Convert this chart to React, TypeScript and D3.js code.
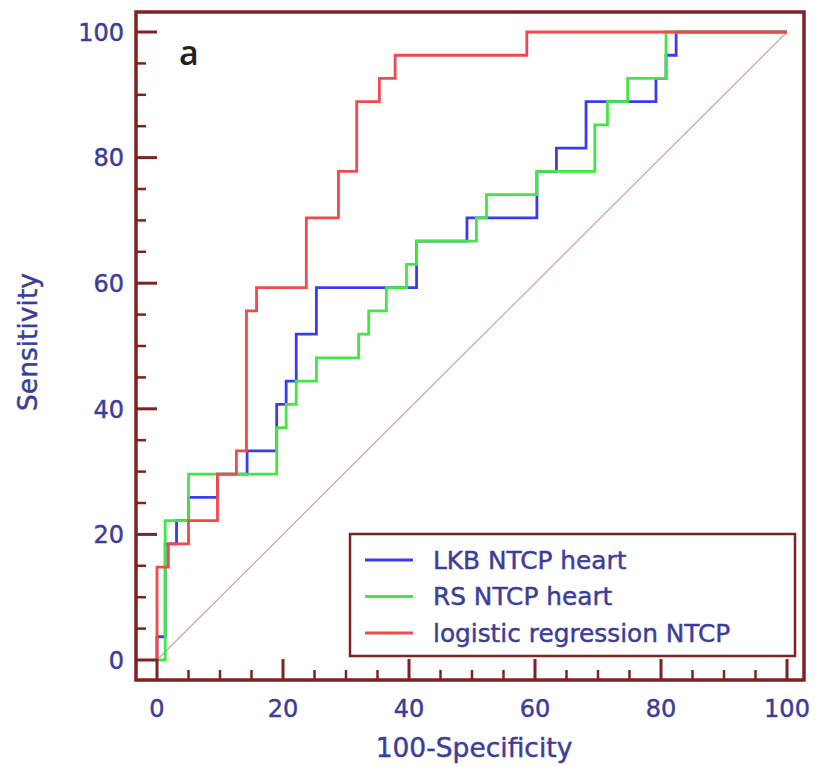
import React from "react";
import * as d3 from "d3";

// ---- Data (100-Specificity %, Sensitivity %) ----
const lkbFpr = [0, 0, 1.3, 3.1, 5.0, 9.6, 14.3, 19.0, 20.5, 22.1, 25.3, 41.2, 49.2, 60.3, 63.4, 68.1, 79.2, 80.8, 82.4, 100];
const lkbTpr = [0, 3.7, 18.5, 22.2, 25.9, 29.6, 33.3, 40.7, 44.4, 51.9, 59.3, 66.7, 70.4, 77.8, 81.5, 88.9, 92.6, 96.3, 100, 100];

const rsFpr = [0, 1.3, 5.0, 19.0, 20.5, 22.1, 25.3, 32.0, 33.6, 36.4, 39.6, 41.2, 50.7, 52.3, 60.3, 69.5, 71.5, 74.7, 80.8, 100];
const rsTpr = [0, 22.2, 29.6, 37.0, 40.7, 44.4, 48.1, 51.9, 55.6, 59.3, 63.0, 66.7, 70.4, 74.1, 77.8, 85.2, 88.9, 92.6, 100, 100];

const lrFpr = [0, 0, 1.8, 5.0, 9.6, 12.6, 14.2, 15.8, 23.7, 28.8, 31.7, 35.3, 37.8, 58.7, 100];
const lrTpr = [0, 14.8, 18.5, 22.2, 29.6, 33.3, 55.6, 59.3, 70.4, 77.8, 88.9, 92.6, 96.3, 100, 100];

const seriesNames = ["LKB NTCP heart", "RS NTCP heart", "logistic regression NTCP"];
const seriesColors = ["#3b3bf2", "#42e842", "#f24a4a"];
const majorTicks = [0, 20, 40, 60, 80, 100];
const minorTicks = d3.range(0, 101, 5).filter((v) => v % 20 !== 0);

const xTitle = "100-Specificity";
const yTitle = "Sensitivity";
const panelLabel = "a";

const W = 817;
const H = 767;
const frame = { left: 136, right: 804, top: 12, bottom: 680 };
const textColor = "#3c3d9a";
const frameColor = "#7d2323";
const font = "'DejaVu Sans', sans-serif";
const textStroke = { stroke: textColor, strokeWidth: 0.45 };

export default function App() {
  const x = d3.scaleLinear().domain([0, 100]).range([157, 787]);
  const y = d3.scaleLinear().domain([0, 100]).range([660, 32]);

  const line = d3
    .line<[number, number]>()
    .x((d) => x(d[0]))
    .y((d) => y(d[1]))
    .curve(d3.curveStepAfter);

  const series = [
    { fpr: lkbFpr, tpr: lkbTpr },
    { fpr: rsFpr, tpr: rsTpr },
    { fpr: lrFpr, tpr: lrTpr },
  ];

  const majorLen = x(0) - frame.left;
  const minorLen = 10;

  const legend = { x: 350, y: 534, w: 445, h: 122 };
  const rowY = [560, 596.5, 633];

  return (
    <svg
      width={W}
      height={H}
      style={{ position: "absolute", left: 0, top: 0, background: "#fff" }}
    >
      <rect x={0} y={0} width={W} height={H} fill="#fff" />
      {/* diagonal reference */}
      <line
        x1={x(0)}
        y1={y(0)}
        x2={x(100)}
        y2={y(100)}
        stroke="#d4a4a4"
        strokeWidth={1.3}
      />
      {/* ROC curves: blue, green, red (red on top) */}
      {series.map((s, i) => (
        <path
          key={i}
          d={line(s.fpr.map((v, j) => [v, s.tpr[j]] as [number, number])) || ""}
          fill="none"
          stroke={seriesColors[i]}
          strokeWidth={2.8}
          strokeLinejoin="miter"
        />
      ))}
      {/* frame */}
      <rect
        x={frame.left}
        y={frame.top}
        width={frame.right - frame.left}
        height={frame.bottom - frame.top}
        fill="none"
        stroke={frameColor}
        strokeWidth={3.5}
      />
      {/* y ticks */}
      {majorTicks.map((t) => (
        <line
          key={"ym" + t}
          x1={frame.left}
          x2={frame.left + majorLen}
          y1={y(t)}
          y2={y(t)}
          stroke={frameColor}
          strokeWidth={3}
        />
      ))}
      {minorTicks.map((t) => (
        <line
          key={"yn" + t}
          x1={frame.left}
          x2={frame.left + minorLen}
          y1={y(t)}
          y2={y(t)}
          stroke={frameColor}
          strokeWidth={2.5}
        />
      ))}
      {/* x ticks */}
      {majorTicks.map((t) => (
        <line
          key={"xm" + t}
          x1={x(t)}
          x2={x(t)}
          y1={frame.bottom}
          y2={frame.bottom - majorLen}
          stroke={frameColor}
          strokeWidth={3}
        />
      ))}
      {minorTicks.map((t) => (
        <line
          key={"xn" + t}
          x1={x(t)}
          x2={x(t)}
          y1={frame.bottom}
          y2={frame.bottom - minorLen}
          stroke={frameColor}
          strokeWidth={2.5}
        />
      ))}
      {/* tick labels */}
      {majorTicks.map((t) => (
        <text
          key={"yl" + t}
          x={124}
          y={y(t) + 8.7}
          textAnchor="end"
          fontFamily={font}
          fontSize={24}
          fill={textColor}
          {...textStroke}
        >
          {t}
        </text>
      ))}
      {majorTicks.map((t) => (
        <text
          key={"xl" + t}
          x={x(t)}
          y={716.5}
          textAnchor="middle"
          fontFamily={font}
          fontSize={24}
          fill={textColor}
          {...textStroke}
        >
          {t}
        </text>
      ))}
      {/* axis titles */}
      <text
        x={(x(0) + x(100)) / 2 + 2}
        y={756.5}
        textAnchor="middle"
        fontFamily={font}
        fontSize={26.5}
        fill={textColor}
        {...textStroke}
      >
        {xTitle}
      </text>
      <text
        transform={`translate(37, ${342}) rotate(-90)`}
        textAnchor="middle"
        fontFamily={font}
        fontSize={26.5}
        fill={textColor}
        {...textStroke}
      >
        {yTitle}
      </text>
      {/* panel label */}
      <text
        x={179}
        y={65}
        fontFamily="'Open Sans', sans-serif"
        fontWeight={600}
        fontSize={34}
        fill="#222"
      >
        {panelLabel}
      </text>
      {/* legend */}
      <rect
        x={legend.x}
        y={legend.y}
        width={legend.w}
        height={legend.h}
        fill="#fff"
        stroke={frameColor}
        strokeWidth={2.5}
      />
      {seriesNames.map((name, i) => (
        <g key={"lg" + i}>
          <line
            x1={365}
            x2={413}
            y1={rowY[i]}
            y2={rowY[i]}
            stroke={seriesColors[i]}
            strokeWidth={2.8}
          />
          <text
            x={433}
            y={rowY[i] + 8.5}
            fontFamily={font}
            fontSize={24.8}
            fill={textColor}
            {...textStroke}
          >
            {name}
          </text>
        </g>
      ))}
    </svg>
  );
}
